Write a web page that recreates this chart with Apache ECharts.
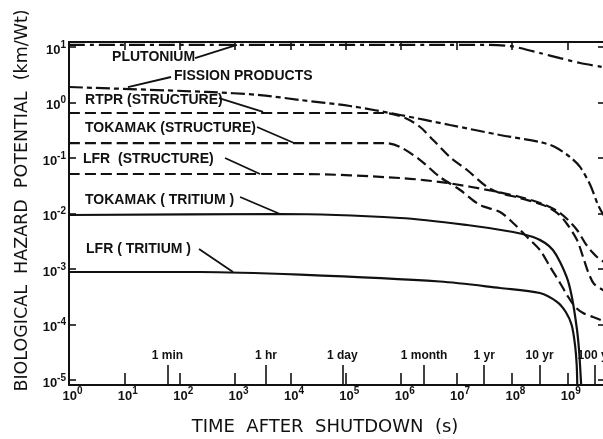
<!DOCTYPE html>
<html>
<head>
<meta charset="utf-8">
<script src="https://cdn.jsdelivr.net/npm/echarts@6/dist/echarts.min.js"></script>
<style>
  html, body { margin: 0; padding: 0; background: #fff; }
  #chart { width: 603px; height: 439px; }
</style>
</head>
<body>
<div id="chart"></div>
<script>
// Time after shutdown (s) and biological hazard potential (km/Wt) for each curve
const plutoniumTime  = [1, 4.0e7, 9.3e7, 1.4e8, 3.2e8, 7.4e8, 1.7e9, 4.8e9];
const plutoniumValue = [10.9, 10.9, 10.4, 9.6, 7.8, 6.3, 5.15, 4.3];

const fissionTime  = [1, 311, 2830, 1.49e4, 1.19e5, 9.55e5, 7.6e6, 6.1e7, 3.2e8, 6.0e8, 1.12e9, 1.7e9, 2.6e9, 3.6e9, 4.8e9];
const fissionValue = [1.90, 1.55, 1.36, 1.11, 0.865, 0.596, 0.393, 0.260, 0.194, 0.158, 0.104, 0.0689, 0.0326, 0.0142, 0.0085];

const rtprStructTime  = [1, 5.1e5, 1.18e6, 2.2e6, 3.77e6, 7.6e6, 1.55e7, 3.56e7, 6.1e7, 1.4e8, 3.66e8, 6.6e8, 9.9e8, 1.5e9, 1.93e9, 2.38e9, 3.05e9, 4.8e9];
const rtprStructValue = [0.647, 0.647, 0.526, 0.362, 0.211, 0.104, 0.0608, 0.030, 0.0234, 0.0190, 0.0142, 0.0102, 0.00647, 0.00333, 0.00164, 0.000883, 0.000537, 0.0004];

const tokamakStructTime  = [1, 5.1e5, 9.55e5, 2.2e6, 5.0e6, 1.16e7, 2.66e7, 6.1e7, 1.05e8, 1.88e8, 3.2e8, 4.9e8, 7.4e8, 9.9e8, 1.39e9, 1.93e9, 2.93e9, 4.8e9];
const tokamakStructValue = [0.186, 0.186, 0.158, 0.092, 0.0455, 0.0265, 0.0142, 0.01064, 0.00675, 0.00377, 0.0022, 0.00109, 0.00056, 0.00034, 0.000207, 0.000161, 0.000136, 0.000113];

const lfrStructTime  = [1, 1.49e4, 9.55e5, 6.75e6, 4.57e7, 1.4e8, 3.66e8, 6.6e8, 9.9e8, 1.5e9, 2.1e9, 2.81e9, 3.6e9, 4.8e9];
const lfrStructValue = [0.0515, 0.0515, 0.0436, 0.0355, 0.0254, 0.0198, 0.0148, 0.0111, 0.00796, 0.00505, 0.00294, 0.00202, 0.00158, 0.0013];

const tokamakTritiumTime  = [1, 6490, 9.55e5, 1.55e7, 1.05e8, 2.42e8, 3.98e8, 5.5e8, 7.4e8, 1.02e9, 1.24e9, 1.5e9, 1.63e9, 1.72e9, 1.8e9];
const tokamakTritiumValue = [0.0094, 0.0098, 0.0083, 0.0062, 0.00464, 0.00377, 0.00294, 0.0022, 0.00134, 0.00063, 0.000276, 7.96e-5, 3.47e-5, 1.51e-5, 6.6e-6];

const lfrTritiumTime  = [1, 233, 1.49e4, 5.0e6, 6.1e7, 3.2e8, 6.6e8, 9.4e8, 1.2e9, 1.38e9, 1.48e9, 1.52e9];
const lfrTritiumValue = [0.000883, 0.000883, 0.00079, 0.000595, 0.000455, 0.00037, 0.000254, 0.000168, 9.8e-5, 4.28e-5, 1.86e-5, 6.6e-6];

// Axis ticks
const xDecades = [1, 1e1, 1e2, 1e3, 1e4, 1e5, 1e6, 1e7, 1e8, 1e9];
const yDecades = [1e-5, 1e-4, 1e-3, 1e-2, 1e-1, 1, 10];
const timeMarkSeconds = [60, 3600, 86400, 2.592e6, 3.156e7, 3.156e8, 3.156e9];
const timeMarkLabels  = ['1 min', '1 hr', '1 day', '1 month', '1 yr', '10 yr', '100 yr'];

// Curve labels: text anchor (left edge, middle) and leader line, in data units
const curveLabels = [
  { text: 'PLUTONIUM',             at: [6, 6.6],       from: [189, 6.3],     to: [1080, 10.9] },
  { text: 'FISSION PRODUCTS',      at: [79, 3.0],      from: [69.6, 2.88],   to: [11.6, 1.9] },
  { text: 'RTPR (STRUCTURE)',      at: [1.95, 1.11],   from: [513, 1.2],     to: [3200, 0.675] },
  { text: 'TOKAMAK (STRUCTURE)',   at: [1.95, 0.347],  from: [2490, 0.362],  to: [1.16e4, 0.186] },
  { text: 'LFR  (STRUCTURE)',      at: [1.79, 0.096],  from: [658, 0.1],     to: [2820, 0.0515] },
  { text: 'TOKAMAK ( TRITIUM )',   at: [1.95, 0.0175], from: [1230, 0.0198], to: [6490, 0.0098] },
  { text: 'LFR ( TRITIUM )',       at: [2.03, 0.00229],from: [223, 0.00229], to: [918, 0.000883] }
];

const X_MIN = 1, X_MAX = 4.8e9;
const Y_MIN = Math.pow(10, -5.09), Y_MAX = Math.pow(10, 1.09);

const INK = '#111';
const pairs = (ts, vs) => ts.map((t, i) => [t, vs[i]]);
const expLabel = v => '{b|10}{s|' + Math.round(Math.log10(v)) + '}';

function curve(name, ts, vs, dash) {
  return {
    name, type: 'line', xAxisIndex: 0, yAxisIndex: 0,
    data: pairs(ts, vs), showSymbol: false, smooth: 0.3,
    lineStyle: { color: INK, width: 2.2, type: dash || 'solid' },
    silent: true, animation: false
  };
}

const chart = echarts.init(document.getElementById('chart'), null, { renderer: 'canvas' });

const baseAxis = {
  type: 'log', min: X_MIN, max: X_MAX,
  splitLine: { show: false }, minorTick: { show: false }
};

chart.setOption({
  backgroundColor: '#fff',
  animation: false,
  grid: { left: 69, right: -2, top: 42, bottom: 54, containLabel: false, outerBoundsMode: 'none' },
  xAxis: [
    Object.assign({}, baseAxis, {
      position: 'bottom',
      axisLine: { lineStyle: { color: INK, width: 2 } },
      axisTick: { inside: true, length: 12, lineStyle: { color: INK, width: 1.6 }, customValues: xDecades },
      axisLabel: {
        customValues: xDecades, margin: 1, color: INK, formatter: expLabel,
        rich: {
          b: { fontFamily: 'Liberation Sans', fontSize: 13, fontWeight: 'bold', color: INK, lineHeight: 14, padding: [6, 0, 0, 7] },
          s: { fontFamily: 'Liberation Sans', fontSize: 10, fontWeight: 'bold', color: INK, lineHeight: 12, verticalAlign: 'top' }
        }
      },
      name: 'TIME  AFTER  SHUTDOWN  (s)', nameLocation: 'middle', nameGap: 33,
      nameTextStyle: { fontFamily: 'DejaVu Sans', fontSize: 18, color: INK, padding: [0, 24, 0, 0] }
    }),
    Object.assign({}, baseAxis, {
      position: 'bottom',
      axisLine: { show: false },
      axisTick: { inside: true, length: 20, lineStyle: { color: INK, width: 1.6 }, customValues: timeMarkSeconds },
      axisLabel: {
        inside: true, margin: 23, customValues: timeMarkSeconds,
        fontFamily: 'Liberation Sans', fontSize: 12, fontWeight: 'bold', color: INK,
        formatter: v => {
          let best = 0;
          timeMarkSeconds.forEach((s, i) => {
            if (Math.abs(Math.log10(s) - Math.log10(v)) < Math.abs(Math.log10(timeMarkSeconds[best]) - Math.log10(v))) best = i;
          });
          return timeMarkLabels[best];
        }
      }
    }),
    Object.assign({}, baseAxis, {
      position: 'top',
      axisLine: { lineStyle: { color: INK, width: 2 } },
      axisTick: { inside: true, length: 8, lineStyle: { color: INK, width: 1.6 }, customValues: xDecades.slice(1) },
      axisLabel: { show: false }
    })
  ],
  yAxis: [
    {
      type: 'log', min: Y_MIN, max: Y_MAX, position: 'left',
      splitLine: { show: false }, minorTick: { show: false },
      axisLine: { lineStyle: { color: INK, width: 2 } },
      axisTick: { inside: true, length: 7, lineStyle: { color: INK, width: 1.6 }, customValues: yDecades },
      axisLabel: {
        customValues: yDecades, margin: 3, color: INK, formatter: expLabel,
        rich: {
          b: { fontFamily: 'Liberation Sans', fontSize: 13, fontWeight: 'bold', color: INK, lineHeight: 14, padding: [6, 0, 0, 0] },
          s: { fontFamily: 'Liberation Sans', fontSize: 10, fontWeight: 'bold', color: INK, lineHeight: 12, verticalAlign: 'top' }
        }
      },
      name: 'BIOLOGICAL  HAZARD  POTENTIAL  (km/Wt)', nameLocation: 'middle', nameGap: 38,
      nameTextStyle: { fontFamily: 'DejaVu Sans', fontSize: 17.5, color: INK, padding: [0, 0, 0, 26] }
    },
    {
      type: 'log', min: Y_MIN, max: Y_MAX, position: 'right',
      splitLine: { show: false }, minorTick: { show: false },
      axisLine: { lineStyle: { color: INK, width: 2 } },
      axisTick: { inside: true, length: 7, lineStyle: { color: INK, width: 1.6 }, customValues: yDecades },
      axisLabel: { show: false }
    }
  ],
  series: [
    curve('Plutonium', plutoniumTime, plutoniumValue, [16, 5, 4, 5]),
    curve('Fission products', fissionTime, fissionValue, [14, 4, 5, 4]),
    curve('RTPR (structure)', rtprStructTime, rtprStructValue, [11, 5]),
    curve('Tokamak (structure)', tokamakStructTime, tokamakStructValue, [11, 5]),
    curve('LFR (structure)', lfrStructTime, lfrStructValue, [11, 5]),
    curve('Tokamak (tritium)', tokamakTritiumTime, tokamakTritiumValue),
    curve('LFR (tritium)', lfrTritiumTime, lfrTritiumValue)
  ]
});

// Curve names with leader lines, placed from data coordinates
const toPx = p => chart.convertToPixel({ xAxisIndex: 0, yAxisIndex: 0 }, p);
const graphics = [];
curveLabels.forEach(lbl => {
  const a = toPx(lbl.at), f = toPx(lbl.from), t = toPx(lbl.to);
  graphics.push({
    type: 'text', x: a[0], y: a[1], silent: true,
    style: { text: lbl.text, fill: INK, font: 'bold 14px "Liberation Sans"', verticalAlign: 'middle', align: 'left' }
  });
  graphics.push({
    type: 'line', silent: true,
    shape: { x1: f[0], y1: f[1], x2: t[0], y2: t[1] },
    style: { stroke: INK, lineWidth: 1.8 }
  });
});
chart.setOption({ graphic: graphics });
</script>
</body>
</html>
